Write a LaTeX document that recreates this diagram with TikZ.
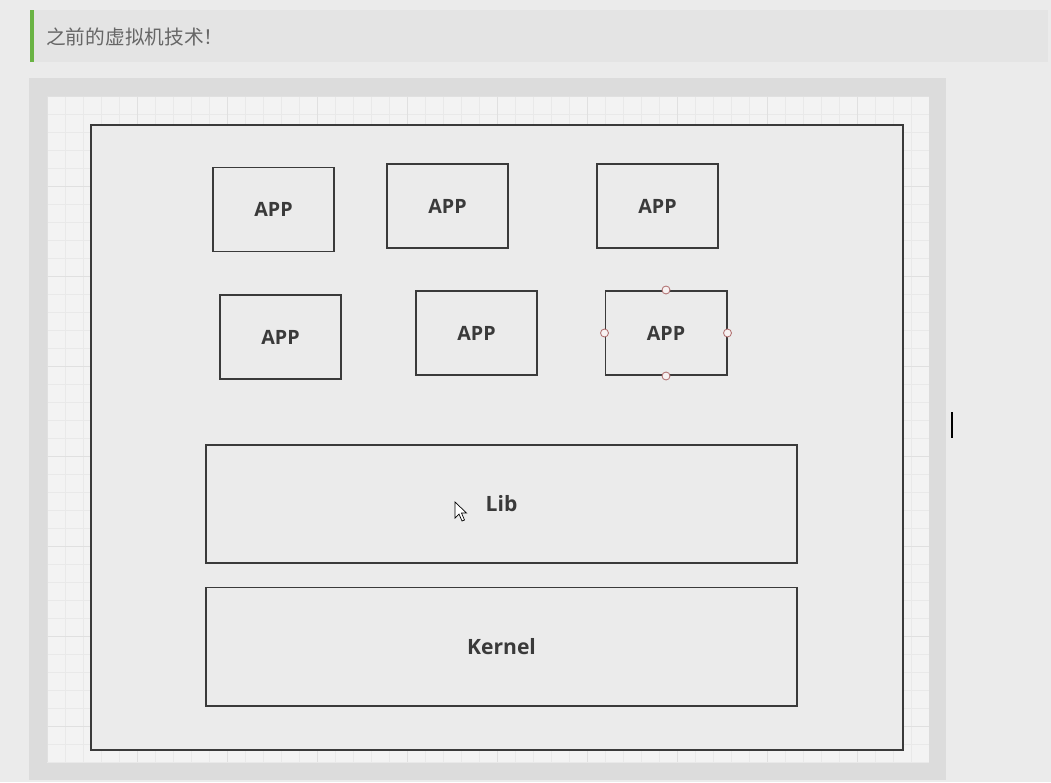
\documentclass[tikz,border=0pt]{standalone}
\usepackage{fontspec}
\setmainfont{Open Sans}
\newfontfamily\cjk{Noto Sans CJK SC}
\definecolor{pagebg}{HTML}{EBEBEB}
\definecolor{headbg}{HTML}{E4E4E4}
\definecolor{headgreen}{HTML}{6AB344}
\definecolor{framebg}{HTML}{DCDCDC}
\definecolor{gridbg}{HTML}{F3F3F3}
\definecolor{gridline}{HTML}{E9E9E9}
\definecolor{gridmajor}{HTML}{E0E0E0}
\definecolor{boxline}{HTML}{3A3A3A}
\definecolor{handle}{HTML}{B07070}
\tikzset{
    appbox/.style={draw=boxline, line width=1.4pt, fill=pagebg, minimum width=3.025cm, minimum height=2.1cm, font=\fontsize{14}{16}\selectfont\bfseries, text=boxline},
    layerbox/.style={draw=boxline, line width=1.4pt, fill=pagebg, minimum width=14.775cm, minimum height=2.95cm, font=\fontsize{15}{18}\selectfont\bfseries, text=boxline},
    selhandle/.style={circle, draw=handle, fill=white!90!handle, line width=0.6pt, inner sep=0pt, minimum size=0.2cm}
}
\begin{document}
\begin{tikzpicture}[x=0.025cm, y=-0.025cm]
        \useasboundingbox (0,0) rectangle (1051,782);
        \fill[pagebg] (0,0) rectangle (1051,782);
        % title bar
        \fill[headbg] (30,10) rectangle (1048,62);
        \fill[headgreen] (30,10) rectangle (34,62);
        \node[anchor=west, text=black!60, font=\cjk\fontsize{14}{16}\selectfont, inner sep=0pt] (title) at (46,37) {之前的虚拟机技术！};
        % canvas
        \fill[framebg] (29,78) rectangle (946,780);
        \fill[gridbg] (47,96) rectangle (929,762);
        \foreach \x in {0,...,48}
            \draw[gridline, line width=0.5pt] (47+18*\x,96) -- (47+18*\x,762);
        \foreach \y in {0,...,37}
            \draw[gridline, line width=0.5pt] (47,96+18*\y) -- (929,96+18*\y);
        \foreach \x in {0,...,9}
            \draw[gridmajor, line width=0.6pt] (47+90*\x,96) -- (47+90*\x,762);
        \foreach \y in {0,...,7}
            \draw[gridmajor, line width=0.6pt] (47,96+90*\y) -- (929,96+90*\y);
        % machine
        \node[draw=boxline, line width=1.5pt, fill=pagebg, minimum width=20.3cm, minimum height=15.625cm] (host) at (497,437.5) {};
        \node[appbox] (app1) at (273.5,209.5) {APP};
        \node[appbox] (app2) at (447.5,206) {APP};
        \node[appbox] (app3) at (657.5,206) {APP};
        \node[appbox] (app4) at (280.5,337) {APP};
        \node[appbox] (app5) at (476.5,333) {APP};
        \node[appbox] (app6) at (666,333) {APP};
        \node[selhandle] (hn) at (app6.north) {};
        \node[selhandle] (hs) at (app6.south) {};
        \node[selhandle] (hw) at (app6.west) {};
        \node[selhandle] (he) at (app6.east) {};
        \node[layerbox] (lib) at (501.5,504) {Lib};
        \node[layerbox] (kernel) at (501.5,646.5) {Kernel};
        % pointer and caret
        \draw[fill=white, line width=0.5pt, line join=miter] (455,502) -- (455,518) -- (459,514) -- (462,521) -- (464.5,520) -- (461.5,513) -- (466.5,513) -- cycle;
        \draw[black, line width=0.8pt] (952,412) -- (952,438);
    \end{tikzpicture}
\end{document}
